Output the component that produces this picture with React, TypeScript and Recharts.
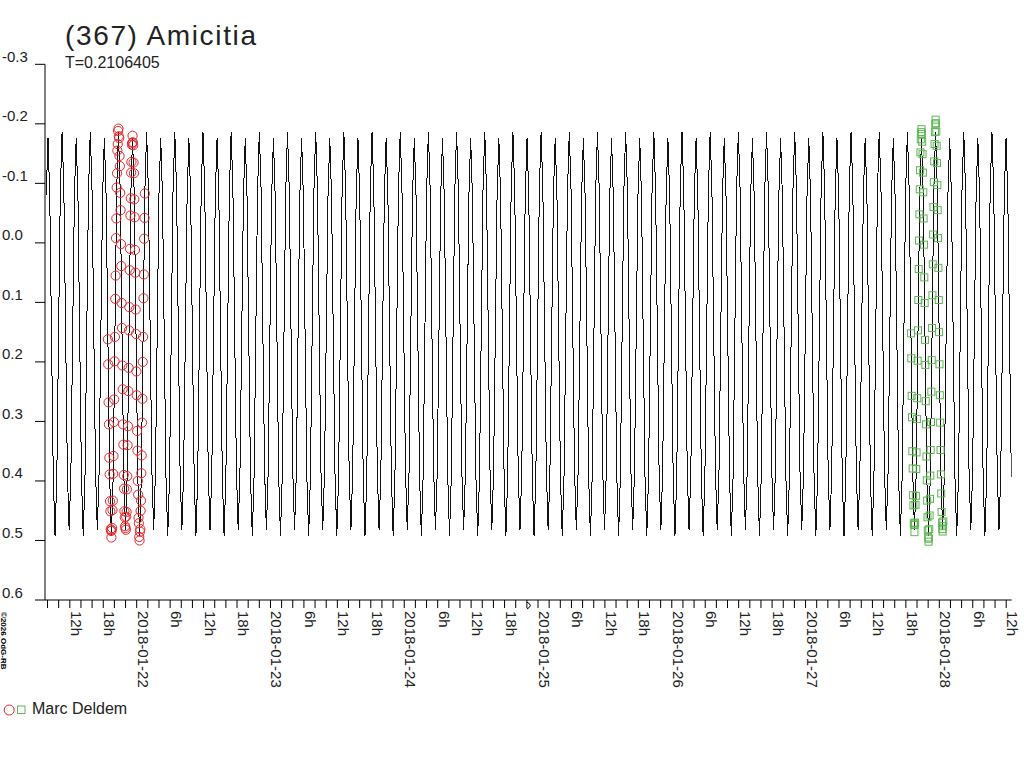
import React from 'react'
import { ComposedChart, Line, Scatter, XAxis, YAxis } from 'recharts'

// time axis is in days of January 2018 (UT)
const xMin = 21.3145
const xMax = 28.5411

// rotation period printed in the title, and epoch of the brighter maximum
const period = 0.2106405
const epoch = 24.1806
const modelStart = 21.32

// one rotation of the model curve (phase 0 = brighter maximum)
const shapePhase = [0, 0.0625, 0.125, 0.1875, 0.25, 0.3125, 0.375, 0.4375, 0.5, 0.5625, 0.625, 0.6875, 0.75, 0.8125, 0.875, 0.9375]
const shapeMag = [-0.187, -0.089, 0.1475, 0.384, 0.482, 0.386, 0.153, -0.08, -0.176, -0.078, 0.158, 0.394, 0.492, 0.393, 0.1525, -0.088]

// Marc Deldem, session 1 (red circles) and session 2 (green squares)
const cadence = period / 80
const session1Start = 21.784564
const session1Mag = [
  0.162, 0.204, 0.268, 0.305, 0.361, 0.389, 0.434, 0.451, 0.481, 0.484,
  0.495, 0.483, 0.479, 0.449, 0.433, 0.388, 0.358, 0.301, 0.263, 0.199,
  0.158, 0.094, 0.055, -0.008, -0.041, -0.093, -0.117, -0.155, -0.166, -0.188,
  -0.192, -0.179, -0.176, -0.146, -0.129, -0.084, -0.055, 0.002, 0.039, 0.101,
  0.143, 0.206, 0.246, 0.305, 0.339, 0.39, 0.413, 0.451, 0.461, 0.476,
  0.479, 0.482, 0.46, 0.452, 0.414, 0.392, 0.34, 0.308, 0.249, 0.21,
  0.147, 0.108, 0.046, 0.01, -0.046, -0.075, -0.118, -0.136, -0.165, -0.168,
  -0.18, -0.169, -0.164, -0.135, -0.117, -0.073, -0.043, 0.012, 0.05, 0.112,
  0.153, 0.216, 0.256, 0.316, 0.349, 0.4, 0.423, 0.462, 0.471, 0.494,
  0.5, 0.485, 0.481, 0.45, 0.433, 0.387, 0.357, 0.302, 0.262, 0.2,
  0.158, 0.093, 0.053, -0.007, -0.042, -0.083,
]
const session2Start = 27.787819
const session2Mag = [
  0.152, 0.194, 0.257, 0.293, 0.35, 0.379, 0.424, 0.441, 0.471, 0.474,
  0.486, 0.473, 0.47, 0.44, 0.425, 0.38, 0.352, 0.296, 0.261, 0.198,
  0.147, 0.096, 0.044, -0.004, -0.048, -0.09, -0.122, -0.152, -0.174, -0.186,
  -0.191, -0.183, -0.17, -0.149, -0.118, -0.085, -0.041, 0.003, 0.058, 0.101,
  0.163, 0.205, 0.266, 0.305, 0.359, 0.399, 0.433, 0.461, 0.483, 0.495,
  0.502, 0.497, 0.481, 0.458, 0.43, 0.391, 0.348, 0.301, 0.25, 0.197,
  0.143, 0.088, 0.036, -0.014, -0.06, -0.102, -0.137, -0.166, -0.186, -0.199,
  -0.207, -0.201, -0.187, -0.163, -0.134, -0.097, -0.055, -0.008, 0.042, 0.096,
  0.15, 0.204, 0.256, 0.302, 0.348, 0.389, 0.421, 0.452, 0.47, 0.481,
  0.485, 0.476, 0.468,
]

const yTicks = [-0.3, -0.2, -0.1, 0, 0.1, 0.2, 0.3, 0.4, 0.5, 0.6]
const tickDays = ['2018-01-21', '2018-01-22', '2018-01-23', '2018-01-24', '2018-01-25', '2018-01-26', '2018-01-27', '2018-01-28']
const hourLabels = ['6h', '12h', '18h']
// the odd marked tick on 24 Jan, 22h (hours counted from 21 Jan 00h)
const markedTickHour = 94

// minor ticks every 2 h, from 21 Jan 08h to 28 Jan 12h
const xTicks: number[] = []
for (let h = 8; h <= 180; h += 2) xTicks.push(21 + h / 24)

const modelData: { t: number; mag: number }[] = []
for (let k = -15; k <= 21; k++) {
  shapePhase.forEach((p, i) => {
    const t = epoch + (k + p) * period
    if (t >= modelStart && t <= xMax) modelData.push({ t, mag: shapeMag[i] })
  })
}
modelData.sort((a, b) => a.t - b.t)

const session1 = session1Mag.map((mag, i) => ({ t: session1Start + i * cadence, mag }))
const session2 = session2Mag.map((mag, i) => ({ t: session2Start + i * cadence, mag }))

const font = '"Liberation Sans", Arial, sans-serif'
const ink = '#222'
const red = '#e8282c'
const green = '#5db653'

// eslint-disable-next-line @typescript-eslint/no-explicit-any
function XTick(props: any) {
  const { x, y, payload } = props
  const h = Math.round((payload.value - 21) * 24)
  const hour = h % 24
  if (h === markedTickHour) {
    return <path d={`M${x},${y - 9} Q${x + 7},${y - 5.5} ${x},${y - 2}`} fill="none" stroke="#000" strokeWidth={1} />
  }
  if (hour % 6 !== 0) return <g />
  const label = hour === 0 ? tickDays[Math.floor(h / 24)] : hourLabels[hour / 6 - 1]
  return (
    <text transform={`translate(${x + 1},${y}) rotate(90)`} fontSize={15} fontFamily={font} fill={ink}>
      {label}
    </text>
  )
}

// eslint-disable-next-line @typescript-eslint/no-explicit-any
function YTick(props: any) {
  const { y, payload } = props
  const v = Number(payload.value)
  const label = Math.abs(v) < 1e-9 ? '0.0' : v.toFixed(1)
  return (
    <text x={2} y={y - 2.5} fontSize={15} fontFamily={font} fill={ink}>
      {label}
    </text>
  )
}

// eslint-disable-next-line @typescript-eslint/no-explicit-any
const redCircle = (p: any) => <circle cx={p.cx} cy={p.cy} r={4.6} fill="none" stroke={red} strokeWidth={1} />
// eslint-disable-next-line @typescript-eslint/no-explicit-any
const greenSquare = (p: any) => <rect x={p.cx - 3.5} y={p.cy - 3.5} width={7} height={7} fill="none" stroke={green} strokeWidth={1} />

export default function App() {
  return (
    <div style={{ position: 'absolute', left: 0, top: 0, width: 1024, height: 768, background: '#fff', fontFamily: font }}>
      <ComposedChart width={1024} height={768} margin={{ top: 64.3, right: 12.3, bottom: 68, left: 0 }}>
        <XAxis type="number" dataKey="t" domain={[xMin, xMax]} allowDataOverflow ticks={xTicks} interval={0}
          tickSize={8} tickMargin={3} height={100} stroke="#000" tick={XTick} />
        <YAxis type="number" dataKey="mag" domain={[-0.3, 0.6]} reversed allowDataOverflow ticks={yTicks} interval={0}
          tickSize={10} width={45} stroke="#000" tick={YTick} />
        <Scatter data={session1} dataKey="mag" shape={redCircle} isAnimationActive={false} />
        <Scatter data={session2} dataKey="mag" shape={greenSquare} isAnimationActive={false} />
        <Line data={modelData} dataKey="mag" type="linear" stroke="#111" strokeWidth={1} dot={false}
          activeDot={false} isAnimationActive={false} style={{ shapeRendering: 'crispEdges' }} />
      </ComposedChart>
      <svg width={1024} height={768} style={{ position: 'absolute', left: 0, top: 0, pointerEvents: 'none' }}>
        <text x={65} y={45} fontSize={28} fontFamily={font} fill={ink} textLength={191} lengthAdjust="spacing">(367) Amicitia</text>
        <text x={65} y={68} fontSize={16} fontFamily={font} fill={ink}>T=0.2106405</text>
        <circle cx={9.2} cy={710} r={5} fill="none" stroke={red} strokeWidth={1} />
        <rect x={17.5} y={706} width={7.5} height={7.5} fill="none" stroke={green} strokeWidth={1} />
        <text x={32} y={714} fontSize={16} fontFamily={font} fill={ink}>Marc Deldem</text>
        <text transform="translate(1,612) rotate(90)" fontSize={8} fontFamily={font} fill="#000" fontWeight="bold">©2026 OdG-RB</text>
      </svg>
    </div>
  )
}
